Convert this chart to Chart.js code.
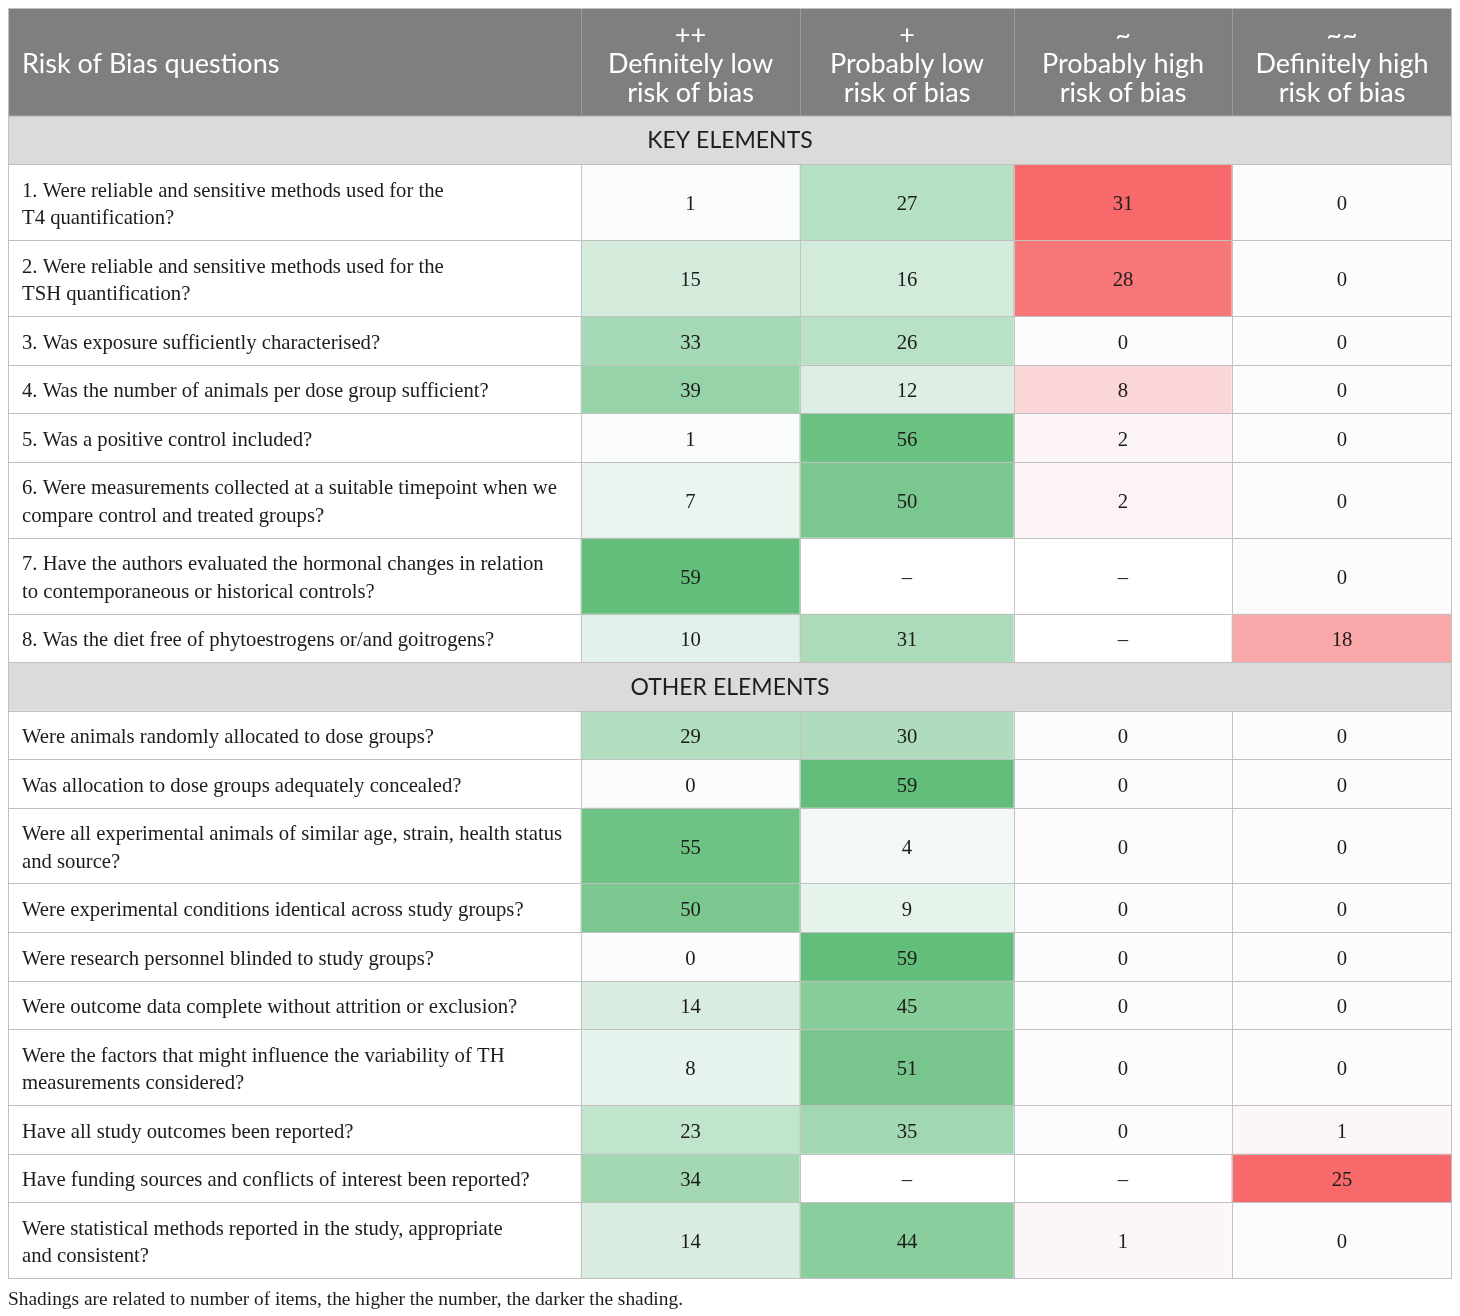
<!DOCTYPE html>
<html>
<head>
<meta charset="utf-8">
<title>Risk of Bias questions</title>
<script src="https://cdn.jsdelivr.net/npm/chart.js@4.4.1/dist/chart.umd.min.js"></script>
<style>
    html, body { margin: 0; padding: 0; background: #ffffff; overflow: hidden; }
    #wrap { width: 1460px; height: 1316px; }
</style>
</head>
<body>
<div id="wrap"><canvas id="biasTable" width="1460" height="1316"></canvas></div>
<script>
// ===== Data =====
const columnMarks = ['++', '+', '~', '~~'];
const columnTitles = [
    ['Definitely low', 'risk of bias'],
    ['Probably low', 'risk of bias'],
    ['Probably high', 'risk of bias'],
    ['Definitely high', 'risk of bias']
];
const firstColumnTitle = 'Risk of Bias questions';
const sectionTitles = ['KEY ELEMENTS', 'OTHER ELEMENTS'];

const keyQuestions = [
    ['1. Were reliable and sensitive methods used for the', 'T4 quantification?'],
    ['2. Were reliable and sensitive methods used for the', 'TSH quantification?'],
    ['3. Was exposure sufficiently characterised?'],
    ['4. Was the number of animals per dose group sufficient?'],
    ['5. Was a positive control included?'],
    ['6. Were measurements collected at a suitable timepoint when we', 'compare control and treated groups?'],
    ['7. Have the authors evaluated the hormonal changes in relation', 'to contemporaneous or historical controls?'],
    ['8. Was the diet free of phytoestrogens or/and goitrogens?']
];
// null = "–" (not applicable)
const keyDefinitelyLow  = [1, 15, 33, 39, 1, 7, 59, 10];
const keyProbablyLow    = [27, 16, 26, 12, 56, 50, null, 31];
const keyProbablyHigh   = [31, 28, 0, 8, 2, 2, null, null];
const keyDefinitelyHigh = [0, 0, 0, 0, 0, 0, 0, 18];

const otherQuestions = [
    ['Were animals randomly allocated to dose groups?'],
    ['Was allocation to dose groups adequately concealed?'],
    ['Were all experimental animals of similar age, strain, health status', 'and source?'],
    ['Were experimental conditions identical across study groups?'],
    ['Were research personnel blinded to study groups?'],
    ['Were outcome data complete without attrition or exclusion?'],
    ['Were the factors that might influence the variability of TH', 'measurements considered?'],
    ['Have all study outcomes been reported?'],
    ['Have funding sources and conflicts of interest been reported?'],
    ['Were statistical methods reported in the study, appropriate', 'and consistent?']
];
const otherDefinitelyLow  = [29, 0, 55, 50, 0, 14, 8, 23, 34, 14];
const otherProbablyLow    = [30, 59, 4, 9, 59, 45, 51, 35, null, 44];
const otherProbablyHigh   = [0, 0, 0, 0, 0, 0, 0, 0, null, 1];
const otherDefinitelyHigh = [0, 0, 0, 0, 0, 0, 0, 1, 25, 0];

const footnote = 'Shadings are related to number of items, the higher the number, the darker the shading.';

// ===== Layout (scale units = pixels) =====
const colEdges = [0, 573, 792, 1006, 1224, 1444];
const headerHeight = 107.5;
const sectionHeight = 48.5;
const lineHeight = 27.5;
const cellPad = 21;

const WHITE_ISH = [252, 252, 255];
const GREEN = [99, 190, 123];
const RED = [248, 105, 107];

function mix(to, t) {
    const c = WHITE_ISH.map((v, i) => Math.round(v + (to[i] - v) * t));
    return `rgb(${c[0]}, ${c[1]}, ${c[2]})`;
}

// shading is scaled within each section: low-risk columns green, high-risk columns red
function shade(cols) {
    const lowMax = Math.max(...cols[0].concat(cols[1]).filter(v => v !== null));
    const highMax = Math.max(...cols[2].concat(cols[3]).filter(v => v !== null));
    return cols.map((col, c) => col.map(v => {
        if (v === null) return '#ffffff';
        const max = c < 2 ? lowMax : highMax;
        return mix(c < 2 ? GREEN : RED, max ? v / max : 0);
    }));
}

// build the list of rows top to bottom
const rows = [];
let cursor = 0;
rows.push({ kind: 'header', top: cursor, h: headerHeight });
cursor += headerHeight;

[
    [sectionTitles[0], keyQuestions, [keyDefinitelyLow, keyProbablyLow, keyProbablyHigh, keyDefinitelyHigh]],
    [sectionTitles[1], otherQuestions, [otherDefinitelyLow, otherProbablyLow, otherProbablyHigh, otherDefinitelyHigh]]
].forEach(([title, questions, cols]) => {
    rows.push({ kind: 'section', title: title, top: cursor, h: sectionHeight });
    cursor += sectionHeight;
    const colors = shade(cols);
    questions.forEach((q, i) => {
        const h = cellPad + lineHeight * q.length;
        rows.push({
            kind: 'body',
            lines: q,
            values: cols.map(col => col[i]),
            colors: colors.map(col => col[i]),
            top: cursor,
            h: h
        });
        cursor += h;
    });
});
const tableHeight = cursor;

// one floating-bar dataset per row, one bar per cell
const datasets = rows.map(row => {
    const mid = row.top + row.h / 2;
    let data, bg;
    if (row.kind === 'section') {
        data = [{ x: [colEdges[0], colEdges[5]], y: mid }];
        bg = ['#dcdbd9'];
    } else {
        data = colEdges.slice(0, 5).map((e, c) => ({ x: [e, colEdges[c + 1]], y: mid }));
        bg = row.kind === 'header' ? Array(5).fill('#7f7f7f') : ['#ffffff'].concat(row.colors);
    }
    return {
        data: data,
        backgroundColor: bg,
        borderWidth: 0,
        barThickness: row.h,
        grouped: false
    };
});

// ===== Text and grid lines =====
const tableText = {
    id: 'tableText',
    afterDatasetsDraw(chart) {
        const ctx = chart.ctx;
        const xs = chart.scales.x;
        const ys = chart.scales.y;
        const px = v => xs.getPixelForValue(v);
        const py = v => ys.getPixelForValue(v);

        ctx.save();
        ctx.textBaseline = 'middle';

        rows.forEach(row => {
            const top = py(row.top), bottom = py(row.top + row.h), mid = (top + bottom) / 2;

            if (row.kind === 'header') {
                const hm = mid + 2.5;
                ctx.fillStyle = '#ffffff';
                ctx.font = '27px Lato, "Open Sans", sans-serif';
                ctx.textAlign = 'left';
                ctx.fillText(firstColumnTitle, px(colEdges[0]) + 14, hm);
                ctx.textAlign = 'center';
                for (let c = 0; c < 4; c++) {
                    const cx = (px(colEdges[c + 1]) + px(colEdges[c + 2])) / 2;
                    ctx.fillText(columnMarks[c], cx, hm - 29);
                    ctx.fillText(columnTitles[c][0], cx, hm);
                    ctx.fillText(columnTitles[c][1], cx, hm + 29);
                }
                // header separators
                ctx.strokeStyle = '#9c9c9c';
                ctx.lineWidth = 1;
                for (let c = 1; c < 5; c++) {
                    const x = Math.round(px(colEdges[c])) + 0.5;
                    ctx.beginPath(); ctx.moveTo(x, top); ctx.lineTo(x, bottom); ctx.stroke();
                }
            } else if (row.kind === 'section') {
                ctx.fillStyle = '#1e1e1e';
                ctx.font = '23px Lato, "Open Sans", sans-serif';
                ctx.textAlign = 'center';
                ctx.fillText(row.title, (px(colEdges[0]) + px(colEdges[5])) / 2, mid + 1);
            } else {
                const bm = mid + 3;
                ctx.fillStyle = '#1c1c1c';
                ctx.font = '20.7px "Liberation Serif", "Times New Roman", serif';
                ctx.textAlign = 'left';
                const first = bm - (row.lines.length - 1) * lineHeight / 2;
                row.lines.forEach((line, i) => {
                    ctx.fillText(line, px(colEdges[0]) + 14, first + i * lineHeight);
                });
                ctx.textAlign = 'center';
                row.values.forEach((v, c) => {
                    const cx = (px(colEdges[c + 1]) + px(colEdges[c + 2])) / 2;
                    ctx.fillText(v === null ? '–' : String(v), cx, bm);
                });
                ctx.strokeStyle = '#c4c4c4';
                ctx.lineWidth = 1;
                for (let c = 1; c < 5; c++) {
                    const x = Math.round(px(colEdges[c])) + 0.5;
                    ctx.beginPath(); ctx.moveTo(x, top); ctx.lineTo(x, bottom); ctx.stroke();
                }
            }
        });

        // horizontal rules
        ctx.strokeStyle = '#c0c0c0';
        ctx.lineWidth = 1;
        const left = px(colEdges[0]), right = px(colEdges[5]);
        rows.concat([{ top: tableHeight }]).forEach(row => {
            const y = Math.round(py(row.top)) + 0.5;
            ctx.beginPath(); ctx.moveTo(left, y); ctx.lineTo(right, y); ctx.stroke();
        });
        // outer border
        ctx.beginPath();
        ctx.moveTo(Math.round(left) + 0.5, py(0));
        ctx.lineTo(Math.round(left) + 0.5, py(tableHeight));
        ctx.moveTo(Math.round(right) - 0.5, py(0));
        ctx.lineTo(Math.round(right) - 0.5, py(tableHeight));
        ctx.stroke();

        // footnote
        ctx.fillStyle = '#1c1c1c';
        ctx.font = '19.4px "Liberation Serif", "Times New Roman", serif';
        ctx.textAlign = 'left';
        ctx.fillText(footnote, left, py(tableHeight) + 22);
        ctx.restore();
    }
};

new Chart(document.getElementById('biasTable'), {
    type: 'bar',
    data: { datasets: datasets },
    options: {
        indexAxis: 'y',
        responsive: false,
        animation: false,
        layout: { padding: { left: 8, right: 8, top: 8, bottom: 1316 - 8 - tableHeight } },
        scales: {
            x: { type: 'linear', min: 0, max: colEdges[5], offset: false, display: false },
            y: { type: 'linear', min: 0, max: tableHeight, reverse: true, offset: false, display: false }
        },
        plugins: {
            legend: { display: false },
            tooltip: { enabled: false }
        }
    },
    plugins: [tableText]
});
</script>
</body>
</html>
